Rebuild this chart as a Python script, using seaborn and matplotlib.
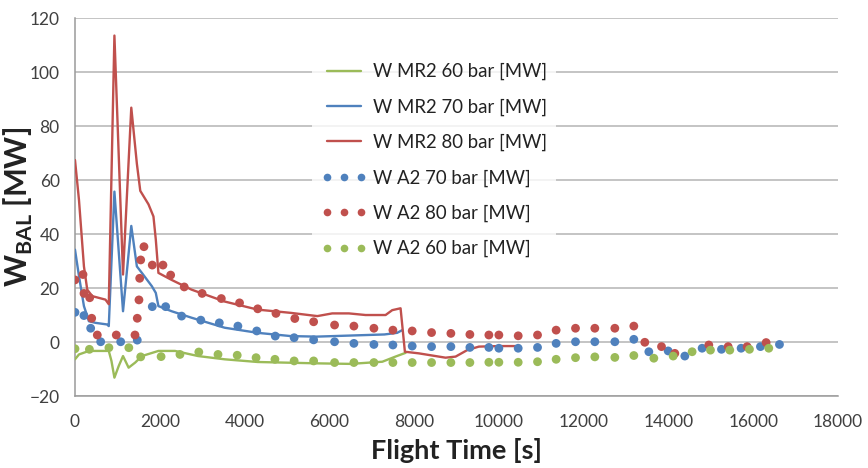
import numpy as np
import matplotlib
matplotlib.use("Agg")
import matplotlib.pyplot as plt
from matplotlib.lines import Line2D
import seaborn as sns

# === DATA ===
# MR2 model curves
t_mr2_60 = [0, 94, 328, 797, 860, 930, 1031, 1133, 1265, 1421, 1578, 1968, 2359, 2905,
            3530, 4310, 5717, 6500, 7250, 7560, 7800]
w_mr2_60 = [-6.4, -4.6, -3.3, -3.3, -7.0, -13.2, -8.9, -5.2, -9.5, -7.6, -5.2, -3.3, -3.3, -5.2,
            -6.4, -7.4, -7.9, -8.1, -7.3, -5.4, -4.0]

t_mr2_70 = [0, 94, 211, 328, 484, 758, 797, 930, 1133, 1328, 1460, 1578, 1812, 1906, 1968,
            2280, 2750, 3530, 4310, 5090, 5700, 6500, 7300, 7600, 7720]
w_mr2_70 = [34.2, 24.4, 13.3, 7.7, 7.1, 6.5, 5.9, 55.7, 11.4, 43.0, 28.0, 25.6, 20.7, 18.2, 13.3,
            11.4, 9.0, 5.3, 3.4, 2.2, 2.0, 2.4, 2.8, 3.4, 4.4]

t_mr2_80 = [0, 94, 211, 289, 406, 719, 797, 930, 1133, 1328, 1460, 1540, 1734, 1851, 1906, 1968,
            2280, 2750, 3530, 4310, 5090, 5717, 6069, 6462, 6855, 7327, 7484, 7681, 7783, 8113,
            8742, 8979, 9253, 9528, 10000, 10393]
w_mr2_80 = [67.4, 52.6, 28.0, 19.4, 17.0, 15.7, 14.0, 113.5, 25.0, 86.8, 66.0, 56.0, 51.0, 46.5, 38.0, 25.6,
            23.0, 19.4, 15.0, 12.0, 10.8, 9.6, 10.6, 10.6, 10.0, 10.0, 11.8, 12.5, -3.6, -4.2,
            -5.8, -5.4, -3.0, -1.7, -1.5, -1.5]

# A2 points
t_a2_70 = [0, 211, 370, 606, 1078, 1469, 1823, 2139, 2515, 2968, 3405, 3843, 4288, 4725, 5170,
           5630, 6124, 6580, 7052, 7500, 7955, 8412, 8868, 9316, 9764, 10000, 10456, 10912, 11351,
           11808, 12264, 12736, 13184, 13538, 13994, 14387, 14795, 15252, 15715, 16171, 16620]
w_a2_70 = [11.0, 9.8, 5.1, 0.1, 0.1, 0.7, 13.1, 13.1, 9.6, 8.1, 7.1, 5.9, 4.1, 2.2, 1.6,
           0.8, 0.1, -0.5, -0.9, -1.1, -1.5, -1.7, -1.7, -2.0, -2.0, -2.3, -2.3, -2.0, -0.5,
           0.1, 0.1, 0.1, 1.0, -3.6, -3.3, -5.2, -2.3, -2.7, -2.3, -1.7, -0.9]

t_a2_80 = [0, 189, 212, 347, 394, 526, 974, 1415, 1469, 1509, 1526, 1550, 1627, 1823, 2075, 2257,
           2577, 2999, 3452, 3882, 4311, 4741, 5186, 5630, 6124, 6580, 7052, 7500, 7955, 8412,
           8868, 9316, 9764, 10000, 10456, 10912, 11351, 11808, 12264, 12736, 13184, 13443,
           13837, 14151, 14953, 15409, 15857, 16305]
w_a2_80 = [23.0, 25.0, 18.0, 16.4, 8.8, 2.6, 2.6, 2.6, 8.8, 15.6, 23.6, 30.4, 35.3, 28.5, 28.5, 24.8,
           20.4, 18.0, 16.1, 14.5, 12.3, 10.6, 8.7, 7.5, 6.3, 5.9, 5.1, 4.4, 4.1, 3.5,
           3.2, 2.8, 2.6, 2.6, 2.3, 2.6, 4.4, 5.1, 5.1, 5.1, 5.9, -0.1,
           -1.7, -4.2, -1.1, -1.7, -1.7, -0.2]

t_a2_60 = [0, 340, 800, 1270, 1550, 2031, 2476, 2921, 3374, 3827, 4272, 4717, 5170, 5630, 6124,
           6580, 7052, 7500, 7955, 8412, 8868, 9316, 9764, 10000, 10456, 10912, 11351, 11808,
           12264, 12736, 13184, 13656, 14112, 14559, 14992, 15448, 15912, 16368]
w_a2_60 = [-2.5, -2.7, -2.1, -2.1, -5.5, -5.4, -4.6, -3.7, -4.6, -4.9, -5.8, -6.4, -7.0, -7.0, -7.6,
           -7.6, -7.6, -7.6, -7.6, -7.6, -7.6, -7.6, -7.5, -7.5, -7.5, -7.3, -6.4, -5.8,
           -5.5, -5.7, -5.0, -6.0, -5.2, -3.6, -3.0, -3.0, -2.7, -2.3]

GREEN = "#9BBB59"
BLUE = "#4F81BD"
RED = "#C0504D"

# === STYLE ===
sns.set_style("white")
plt.rcParams["font.family"] = ["Lato", "DejaVu Sans"]
plt.rcParams["mathtext.fontset"] = "custom"
plt.rcParams["mathtext.rm"] = "Lato"
plt.rcParams["mathtext.bf"] = "Lato:bold"

fig = plt.figure(figsize=(8.68, 4.68), dpi=100)
ax = fig.add_axes([0.0864, 0.1538, 0.879, 0.8077])

# === LINES ===
sns.lineplot(x=t_mr2_60, y=w_mr2_60, ax=ax, color=GREEN, lw=1.7, sort=False, zorder=3)
sns.lineplot(x=t_mr2_70, y=w_mr2_70, ax=ax, color=BLUE, lw=1.7, sort=False, zorder=3)
sns.lineplot(x=t_mr2_80, y=w_mr2_80, ax=ax, color=RED, lw=1.7, sort=False, zorder=3)

# === POINTS ===
for tt, ww, col in [(t_a2_70, w_a2_70, BLUE), (t_a2_80, w_a2_80, RED), (t_a2_60, w_a2_60, GREEN)]:
    sns.scatterplot(x=tt, y=ww, ax=ax, color=col, s=40, edgecolor="none", linewidth=0, zorder=4)

# === AXES ===
ax.set_xlim(0, 18000)
ax.set_ylim(-20, 120)
ax.set_xticks(np.arange(0, 18001, 2000))
ax.set_yticks(np.arange(-20, 121, 20))
ax.yaxis.grid(True, color="#B4B4B4", lw=1.1)
ax.xaxis.grid(False)
for s in ["top", "right"]:
    ax.spines[s].set_visible(False)
for s in ["left", "bottom"]:
    ax.spines[s].set_color("#9A9A9A")
    ax.spines[s].set_linewidth(1.1)
ax.tick_params(axis="both", direction="out", length=5, width=1.1, color="#9A9A9A",
               labelsize=12.5, labelcolor="#404040", pad=6)
ax.tick_params(axis="x", pad=8)

ax.set_xlabel("Flight Time [s]", fontsize=19.5, fontweight="bold", color="#222222", labelpad=6)
ax.set_ylabel(r"W$_{\mathbf{BAL}}$ [MW]", fontsize=22, fontweight="bold", color="#222222")
ax.yaxis.set_label_coords(-0.052, 0.5)

# === LEGEND ===
handles = [
    Line2D([], [], color=GREEN, lw=1.7),
    Line2D([], [], color=BLUE, lw=1.7),
    Line2D([], [], color=RED, lw=1.7),
    Line2D([], [], color=BLUE, ls="none", marker="o", ms=5.5, mec="none"),
    Line2D([], [], color=RED, ls="none", marker="o", ms=5.5, mec="none"),
    Line2D([], [], color=GREEN, ls="none", marker="o", ms=5.5, mec="none"),
]
labels = ["W MR2 60 bar [MW]", "W MR2 70 bar [MW]", "W MR2 80 bar [MW]",
          "W A2 70 bar [MW]", "W A2 80 bar [MW]", "W A2 60 bar [MW]"]
leg = ax.legend(handles, labels, loc="upper left", bbox_to_anchor=(0.299, 0.93),
                numpoints=3, frameon=True, fontsize=13.4, labelspacing=0.97,
                handlelength=2.4, handletextpad=0.35, borderpad=0.5, fancybox=False)
leg.get_frame().set_facecolor("white")
leg.get_frame().set_edgecolor("none")
for txt in leg.get_texts():
    txt.set_color("#222222")

fig.savefig("out.png", dpi=100)
